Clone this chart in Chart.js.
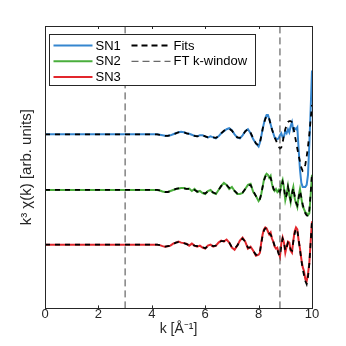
<!DOCTYPE html>
<html>
<head>
<meta charset="utf-8">
<script src="https://cdn.jsdelivr.net/npm/chart.js@4"></script>
<style>
  html, body { margin: 0; padding: 0; background: #fff; }
  #wrap { width: 346px; height: 346px; }
</style>
</head>
<body>
<div id="wrap"><canvas id="chart1"></canvas></div>
<script>
// k grid [1/A]
var k = [0, 1, 2, 3, 4,
  4.1, 4.2, 4.3, 4.4, 4.5, 4.6, 4.7, 4.8, 4.9, 5.0,
  5.1, 5.2, 5.3, 5.4, 5.5, 5.6, 5.7, 5.8, 5.9, 6.0,
  6.1, 6.2, 6.3, 6.4, 6.5, 6.6, 6.7, 6.8, 6.9, 7.0,
  7.1, 7.2, 7.3, 7.4, 7.5, 7.6, 7.7, 7.8, 7.9, 8.0,
  8.05, 8.1, 8.15, 8.2, 8.25, 8.3, 8.35, 8.4, 8.45, 8.5,
  8.55, 8.6, 8.65, 8.7, 8.75, 8.8, 8.85, 8.9, 8.95, 9.0,
  9.05, 9.1, 9.15, 9.2, 9.25, 9.3, 9.35, 9.4, 9.45, 9.5,
  9.55, 9.6, 9.65, 9.7, 9.75, 9.8, 9.85, 9.9, 9.95, 10.0];

var sn1 = [0, 0, 0, 0, 0,
  0, 0, -0.05, -0.1, -0.15, -0.15, -0.1, 0, 0.1, 0.2,
  0.25, 0.2, 0.1, 0.05, -0.05, -0.15, -0.2, -0.1, -0.1, -0.2,
  -0.3, -0.2, -0.3, -0.4, -0.2, 0.1, 0.3, 0.5, 0.6, 0.4,
  0, -0.3, -0.4, -0.1, 0.3, 0.5, 0.1, -0.5, -0.9, -1.2,
  -0.8, -0.2, 0.5, 1.1, 1.6, 1.9, 1.9, 1.5, 1.0, 0.5,
  0.1, -0.3, -0.4, -0.5, -0.4, -0.1, 0.1, -0.3, -0.2, 0.3,
  0.1, 0.5, 0.2, 0.8, 1.2, 0.4, 0.6, 0.5, 0.7, -1.5,
  -3.5, -4.8, -5.2, -5.2, -5.2, -5.0, -4.0, -1.0, 2.5, 6.3];
var fit1 = [0, 0, 0, 0, 0,
  0, 0, -0.05, -0.1, -0.15, -0.15, -0.1, 0, 0.1, 0.2,
  0.2, 0.2, 0.1, 0.05, -0.05, -0.15, -0.2, -0.15, -0.1, -0.2,
  -0.3, -0.25, -0.3, -0.35, -0.2, 0.1, 0.35, 0.5, 0.55, 0.35,
  0, -0.3, -0.35, -0.1, 0.3, 0.5, 0.15, -0.4, -0.9, -1.1,
  -0.8, -0.2, 0.5, 1.1, 1.5, 1.8, 1.8, 1.5, 1.0, 0.5,
  0.1, -0.3, -0.6, -0.9, -1.2, -1.4, -1.3, -0.8, -0.1, 0.5,
  0.9, 1.2, 1.3, 1.3, 1.2, 0.7, 0, -0.7, -1.4, -2.1,
  -2.7, -3.3, -3.6, -3.5, -3.0, -2.2, -1.2, 0, 1.5, 2.9];

var sn2 = [0, 0, 0, 0, 0,
  0, 0, -0.05, -0.15, -0.2, -0.2, -0.1, 0, 0.1, 0.15,
  0.2, 0.2, 0.1, 0.15, -0.1, 0.1, -0.2, -0.1, -0.3, -0.4,
  -0.1, 0, -0.3, -0.4, 0, 0.4, 0.7, 0.5, 0.1, 0.3,
  -0.1, -0.4, -0.4, -0.3, 0.1, 0.5, 0.6, -0.2, -0.6, -1.1,
  -0.9, -0.4, 0.3, 1.0, 1.4, 1.6, 1.5, 1.2, 1.4, 0.6,
  0.1, -0.1, 0.1, -0.2, 0, -0.3, 0.6, 1.0, 0.2, -1.0,
  -0.4, 0.4, -0.5, -1.2, -0.2, 0.3, -0.8, -1.3, -1.7, -0.6,
  0.1, -0.8, -1.6, -1.9, -2.2, -2.3, -2.5, -2.3, -0.5, 1.5];
var fit2 = [0, 0, 0, 0, 0,
  0, 0, -0.05, -0.1, -0.2, -0.2, -0.1, 0, 0.1, 0.15,
  0.2, 0.15, 0.1, 0.1, 0, 0, -0.15, -0.15, -0.25, -0.35,
  -0.15, -0.05, -0.25, -0.35, 0, 0.4, 0.6, 0.5, 0.2, 0.2,
  -0.1, -0.35, -0.4, -0.25, 0.1, 0.45, 0.5, -0.1, -0.6, -1.0,
  -0.9, -0.4, 0.3, 0.9, 1.3, 1.5, 1.5, 1.3, 1.2, 0.7,
  0.2, -0.1, 0, -0.1, -0.1, -0.2, 0.4, 0.8, 0.3, -0.8,
  -0.5, 0.3, -0.3, -1.0, -0.4, 0.2, -0.6, -1.2, -1.5, -0.8,
  -0.1, -0.7, -1.4, -1.9, -2.3, -2.5, -2.6, -2.0, -0.3, 1.6];

var sn3 = [0, 0, 0, 0, 0,
  0, 0, -0.05, -0.15, -0.2, -0.15, -0.1, 0.1, 0.2, 0.3,
  0.2, 0.15, 0.1, -0.1, 0.1, -0.1, -0.2, -0.1, -0.3, -0.4,
  -0.1, 0, -0.2, -0.1, 0.2, 0.4, 0.3, 0.5, 0.2, -0.3,
  -0.5, -0.1, 0.4, 0.7, 0.3, -0.4, -0.2, -0.6, -1.1, -1.0,
  -0.8, 0.2, 1.0, 1.5, 1.7, 1.6, 1.3, 1.0, 1.2, 0.6,
  0.3, -0.2, -0.4, -0.3, -0.8, -1.2, 0.1, 0.7, 0.2, -0.8,
  -0.2, 0.3, 0.2, -0.6, -0.8, 0.4, 1.3, 1.7, 1.5, 0.4,
  -0.4, -1.4, -2.2, -2.6, -3.4, -3.6, -2.9, -1.8, 0.3, 2.3];
var fit3 = [0, 0, 0, 0, 0,
  0, 0, -0.05, -0.1, -0.2, -0.15, -0.1, 0.05, 0.2, 0.25,
  0.2, 0.15, 0.05, -0.05, 0, -0.1, -0.15, -0.15, -0.25, -0.35,
  -0.15, -0.05, -0.15, -0.1, 0.15, 0.35, 0.35, 0.4, 0.2, -0.25,
  -0.4, -0.1, 0.35, 0.6, 0.3, -0.3, -0.3, -0.6, -1.0, -1.0,
  -0.7, 0.1, 0.9, 1.4, 1.6, 1.6, 1.3, 1.1, 1.0, 0.7,
  0.3, -0.1, -0.4, -0.5, -0.9, -1.1, -0.1, 0.6, 0.3, -0.6,
  -0.3, 0.2, 0.1, -0.5, -0.6, 0.3, 1.1, 1.6, 1.4, 0.5,
  -0.5, -1.5, -2.4, -3.0, -3.6, -3.9, -3.2, -1.9, 0.2, 2.4];

var kWindow = [3, 8.8];
var xTicks = [0, 2, 4, 6, 8, 10];

var yMin = -11.7, yMax = 16.2;
var axisColor = '#262626';
var font = "'Liberation Sans', Arial, sans-serif";

function pts(vals, off) {
  return k.map(function (kk, i) { return { x: kk, y: vals[i] + off }; });
}

function vline(kk) {
  return [{ x: kk, y: yMin }, { x: kk, y: yMax }];
}

var dataStyle = { fill: false, tension: 0, pointRadius: 0, borderWidth: 2, order: 3 };
var fitStyle = { fill: false, tension: 0, pointRadius: 0, borderWidth: 1.8, borderColor: '#000', borderDash: [5, 5], order: 2 };
var winStyle = { fill: false, pointRadius: 0, borderWidth: 1, borderColor: '#444', borderDash: [7, 4], order: 1 };

var datasets = [
  Object.assign({ label: 'SN1', data: pts(sn1, 5.5), borderColor: '#3586cf' }, dataStyle),
  Object.assign({ label: 'SN2', data: pts(sn2, 0), borderColor: '#4aae3c' }, dataStyle),
  Object.assign({ label: 'SN3', data: pts(sn3, -5.4), borderColor: '#e2262c' }, dataStyle),
  Object.assign({ label: 'Fits', data: pts(fit1, 5.5) }, fitStyle),
  Object.assign({ label: 'Fits2', data: pts(fit2, 0) }, fitStyle),
  Object.assign({ label: 'Fits3', data: pts(fit3, -5.4) }, fitStyle),
  Object.assign({ label: 'FT k-window', data: vline(kWindow[0]) }, winStyle),
  Object.assign({ label: 'win2', data: vline(kWindow[1]) }, winStyle)
];

// box, inward ticks and the two-column legend
var frame = {
  id: 'frame',
  afterDraw: function (chart) {
    var c = chart.ctx, a = chart.chartArea, xs = chart.scales.x;
    c.save();
    c.strokeStyle = axisColor;
    c.lineWidth = 1;
    c.strokeRect(Math.round(a.left) + 0.5, Math.round(a.top) + 0.5,
      Math.round(a.right - a.left), Math.round(a.bottom - a.top));
    xTicks.forEach(function (t) {
      var px = Math.round(xs.getPixelForValue(t)) + 0.5;
      c.beginPath();
      c.moveTo(px, a.bottom); c.lineTo(px, a.bottom - 3);
      c.moveTo(px, a.top); c.lineTo(px, a.top + 3);
      c.stroke();
    });

    // legend
    var lx = Math.round(a.left) + 4.5, ly = Math.round(a.top) + 8.5, lw = 206, lh = 51;
    c.fillStyle = '#fff';
    c.fillRect(lx, ly, lw, lh);
    c.strokeStyle = axisColor;
    c.strokeRect(lx, ly, lw, lh);
    c.font = '13px ' + font;
    c.textBaseline = 'middle';
    c.fillStyle = '#000';
    var rows = [
      { ds: 0, col: 0, row: 0 }, { ds: 1, col: 0, row: 1 }, { ds: 2, col: 0, row: 2 },
      { ds: 3, col: 1, row: 0 }, { ds: 6, col: 1, row: 1 }
    ];
    rows.forEach(function (r) {
      var d = chart.data.datasets[r.ds];
      var x0 = lx + 4 + r.col * 78, y0 = ly + 11 + r.row * 15.8;
      c.save();
      c.strokeStyle = d.borderColor;
      c.lineWidth = d.borderWidth;
      c.setLineDash(r.ds === 3 ? [6, 4] : (d.borderDash || []));
      c.beginPath();
      c.moveTo(x0, y0); c.lineTo(x0 + 39, y0);
      c.stroke();
      c.restore();
      c.fillText(d.label, x0 + 42, y0 + 0.5);
    });
    c.restore();
  }
};

new Chart('chart1', {
  type: 'line',
  data: { datasets: datasets },
  plugins: [frame],
  options: {
    responsive: true,
    maintainAspectRatio: false,
    animation: false,
    layout: { padding: { left: 16, right: 34, top: 26, bottom: 10 } },
    plugins: { legend: { display: false }, tooltip: { enabled: false } },
    scales: {
      x: {
        type: 'linear',
        min: 0, max: 10,
        grid: { display: false, drawTicks: false },
        border: { display: false },
        afterBuildTicks: function (s) { s.ticks = xTicks.map(function (v) { return { value: v }; }); },
        ticks: { color: axisColor, padding: -2, font: { family: font, size: 13 } },
        title: { display: true, text: 'k [Å⁻¹]', color: axisColor, padding: { top: 2, bottom: 0 }, font: { family: font, size: 14, lineHeight: 1 } }
      },
      y: {
        type: 'linear',
        min: yMin, max: yMax,
        grid: { display: false, drawTicks: false },
        border: { display: false },
        ticks: { display: false },
        title: { display: true, text: 'k³ χ(k) [arb. units]', color: axisColor, padding: { top: 2, bottom: 9 }, font: { family: font, size: 15 } }
      }
    }
  }
});
</script>
</body>
</html>
